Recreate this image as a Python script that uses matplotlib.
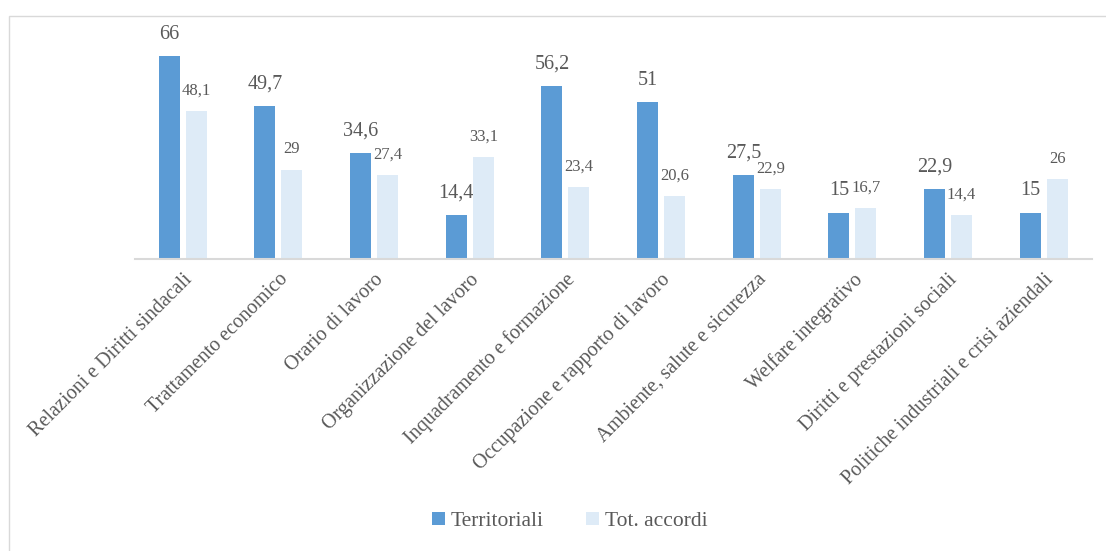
import matplotlib.pyplot as plt
import numpy as np
from matplotlib.patches import Rectangle

# categorie e valori (%)
categorie = ["Relazioni e Diritti sindacali", "Trattamento economico", "Orario di lavoro",
             "Organizzazione del lavoro", "Inquadramento e formazione",
             "Occupazione e rapporto di lavoro", "Ambiente, salute e sicurezza",
             "Welfare integrativo", "Diritti e prestazioni sociali",
             "Politiche industriali e crisi aziendali"]
territoriali = [66, 49.7, 34.6, 14.4, 56.2, 51, 27.5, 15, 22.9, 15]
tot_accordi = [48.1, 29, 27.4, 33.1, 23.4, 20.6, 22.9, 16.7, 14.4, 26]

blu = "#5B9BD5"
azzurro = "#DEEBF7"
grigio = "#595959"

plt.rcParams["font.family"] = ["Liberation Serif", "DejaVu Serif"]

fig = plt.figure(figsize=(11.06, 5.51), dpi=100)
ax = fig.add_axes([0.122, 0.530, 0.865, 0.39])

x = np.arange(len(categorie))
w = 0.22
off = 0.141
b1 = ax.bar(x - off, territoriali, w, color=blu, label="Territoriali")
b2 = ax.bar(x + off, tot_accordi, w, color=azzurro, label="Tot. accordi")


def fmt(v):
    return ("%g" % v).replace(".", ",")


for r, v in zip(b1, territoriali):
    ax.annotate(fmt(v), (r.get_x() + r.get_width() / 2, v), xytext=(0, 9),
                textcoords="offset points", ha="center", va="bottom",
                fontsize=14.5, color=grigio)
for r, v in zip(b2, tot_accordi):
    ax.annotate(fmt(v), (r.get_x() + r.get_width() / 2, v), xytext=(0, 9),
                textcoords="offset points", ha="center", va="bottom",
                fontsize=12, color=grigio)

ax.set_xlim(-0.5, len(categorie) - 0.5)
ax.set_ylim(0, 70)
ax.set_yticks([])
ax.set_xticks(x)
ax.set_xticklabels(categorie, rotation=45, ha="right", rotation_mode="anchor",
                   fontsize=14.5, color=grigio)
ax.tick_params(axis="x", length=0, pad=8)
for s in ["top", "right", "left"]:
    ax.spines[s].set_visible(False)
ax.spines["bottom"].set_color("#D9D9D9")
ax.spines["bottom"].set_linewidth(1.5)

# cornice del grafico
fig.patches.append(Rectangle((0.008, -0.01), 1.0, 0.981, transform=fig.transFigure,
                             fill=False, edgecolor="#D9D9D9", linewidth=1))

leg = fig.legend(loc="center", bbox_to_anchor=(0.515, 0.054), ncol=2, frameon=False,
                 fontsize=15.5, handlelength=0.6, handleheight=0.6, handletextpad=0.25,
                 columnspacing=2.0)
for t in leg.get_texts():
    t.set_color(grigio)

plt.savefig("out.png", dpi=100)
